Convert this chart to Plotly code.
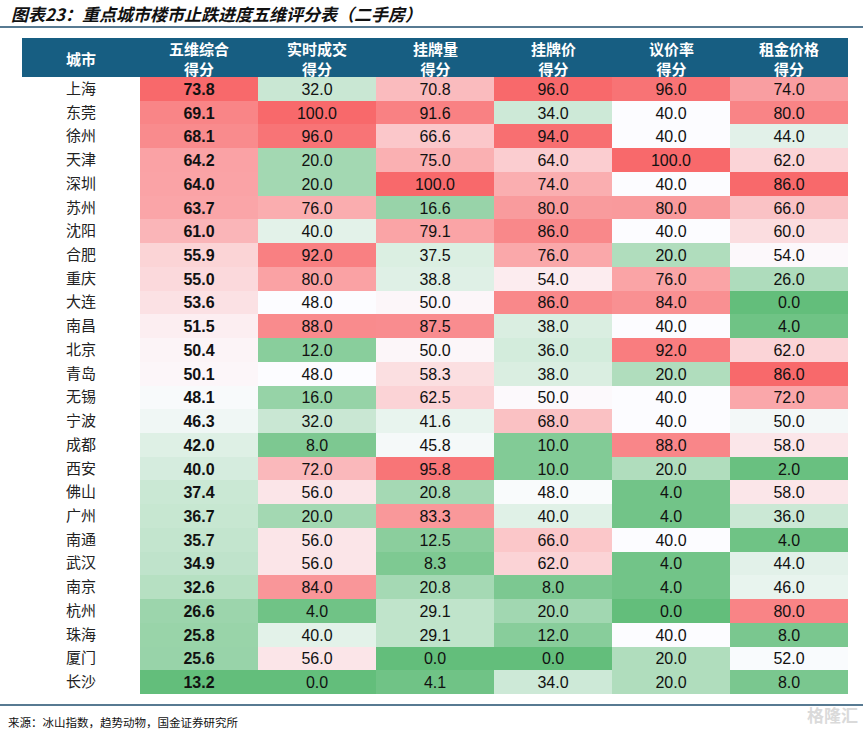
import numpy as np
import plotly.graph_objects as go

# ---- data ----
cities = ['上海', '东莞', '徐州', '天津', '深圳', '苏州', '沈阳', '合肥', '重庆', '大连',
          '南昌', '北京', '青岛', '无锡', '宁波', '成都', '西安', '佛山', '广州', '南通',
          '武汉', '南京', '杭州', '珠海', '厦门', '长沙']
composite = [73.8, 69.1, 68.1, 64.2, 64.0, 63.7, 61.0, 55.9, 55.0, 53.6, 51.5, 50.4, 50.1,
             48.1, 46.3, 42.0, 40.0, 37.4, 36.7, 35.7, 34.9, 32.6, 26.6, 25.8, 25.6, 13.2]
deals = [32, 100, 96, 20, 20, 76, 40, 92, 80, 48, 88, 12, 48,
         16, 32, 8, 72, 56, 20, 56, 56, 84, 4, 40, 56, 0]
listings = [70.8, 91.6, 66.6, 75.0, 100.0, 16.6, 79.1, 37.5, 38.8, 50.0, 87.5, 50.0, 58.3,
            62.5, 41.6, 45.8, 95.8, 20.8, 83.3, 12.5, 8.3, 20.8, 29.1, 29.1, 0.0, 4.1]
list_price = [96, 34, 94, 64, 74, 80, 86, 76, 54, 86, 38, 36, 38,
              50, 68, 10, 10, 48, 40, 66, 62, 8, 20, 12, 0, 34]
bargain = [96, 40, 40, 100, 40, 80, 40, 20, 76, 84, 40, 92, 20,
           40, 40, 88, 20, 4, 4, 40, 4, 4, 0, 40, 20, 20]
rent = [74, 80, 44, 62, 86, 66, 60, 54, 26, 0, 4, 62, 86,
        72, 50, 58, 2, 58, 36, 4, 44, 46, 80, 8, 52, 8]

headers = [['城市'], ['五维综合', '得分'], ['实时成交', '得分'], ['挂牌量', '得分'],
           ['挂牌价', '得分'], ['议价率', '得分'], ['租金价格', '得分']]

GREEN = 'rgb(99,190,123)'
WHITE = 'rgb(252,252,255)'
RED = 'rgb(248,105,107)'

W, H = 868, 731
L, R, T, B = 22, 20, 77, 37
PW, PH = W - L - R, H - T - B
HEAD = '#175E82'


def px(x, y):
    # pixel position -> paper coords
    return (x - L) / PW, (H - B - y) / PH


cols = [composite, deals, listings, list_price, bargain, rent]

fig = go.Figure()

# city name column (plain white cells)
fig.add_trace(go.Heatmap(
    x0=0, dx=1, y=cities, z=[[0] for _ in cities],
    text=[[c] for c in cities], texttemplate='%{text}',
    textfont=dict(family='Noto Sans CJK SC', size=15, color='#222222'),
    colorscale=[[0, 'white'], [1, 'white']], showscale=False, hoverinfo='skip',
))

# each score column gets its own 3-colour scale: min green, median white, max red
for i, col in enumerate(cols):
    v = np.array(col, dtype=float)
    lo, mid, hi = v.min(), np.percentile(v, 50), v.max()
    fig.add_trace(go.Heatmap(
        x0=i + 1, dx=1, y=cities, z=[[c] for c in col],
        zmin=lo, zmax=hi,
        colorscale=[[0, GREEN], [(mid - lo) / (hi - lo), WHITE], [1, RED]],
        texttemplate='<b>%{z:.1f}</b>' if i == 0 else '%{z:.1f}',
        textfont=dict(family='Liberation Sans', size=16, color='#111111'),
        showscale=False, hoverinfo='skip',
    ))

fig.update_xaxes(range=[-0.5, 6.5], showticklabels=False, ticks='',
                 showgrid=False, zeroline=False, fixedrange=True)
fig.update_yaxes(autorange='reversed', showticklabels=False, ticks='',
                 showgrid=False, zeroline=False, fixedrange=True)

# header band + column titles
x0, y0 = px(22, 77)
x1, y1 = px(848, 38)
fig.add_shape(type='rect', xref='paper', yref='paper', x0=x0, x1=x1, y0=y0, y1=y1,
              fillcolor=HEAD, line=dict(width=0), layer='below')
_, hy = px(0, 59)
for i, h in enumerate(headers):
    fig.add_annotation(
        text='<br>'.join('<b>%s</b>' % s for s in h),
        x=i, y=hy, xref='x', yref='paper', showarrow=False,
        xanchor='center', yanchor='middle',
        font=dict(family='Noto Sans CJK SC', size=15, color='white'),
    )

# title, rules and source
tx, ty = px(9, 14)
fig.add_annotation(
    text='<b><i>图表23：重点城市楼市止跌进度五维评分表（二手房）</i></b>',
    x=tx, y=ty, xref='paper', yref='paper',
    xanchor='left', yanchor='middle', showarrow=False,
    font=dict(family='Noto Sans CJK SC', size=17, color='#111111'),
)
for ly in (27, 705):
    a, b = px(0, ly)
    c, _ = px(863, ly)
    fig.add_shape(type='line', xref='paper', yref='paper',
                  x0=a, x1=c, y0=b, y1=b,
                  line=dict(color='#1F4E6E', width=1.5))
sx, sy = px(6, 722)
fig.add_annotation(
    text='来源：冰山指数，趋势动物，国金证券研究所',
    x=sx, y=sy, xref='paper', yref='paper',
    xanchor='left', yanchor='middle', showarrow=False,
    font=dict(family='Noto Sans CJK SC', size=11.5, color='#111111'),
)
# watermark
wx, wy = px(860, 714)
fig.add_annotation(
    text='<b>格隆汇</b>', x=wx, y=wy, xref='paper', yref='paper',
    xanchor='right', yanchor='middle', showarrow=False,
    font=dict(family='Noto Sans CJK SC', size=17, color='#DADADA'),
)

fig.update_layout(
    width=W, height=H,
    margin=dict(l=L, r=R, t=T, b=B),
    paper_bgcolor='white',
    plot_bgcolor='white',
)

# page has a default 8px body margin; drop it so the figure sits at 0,0
fig.write_html('out.html', config={'displayModeBar': False},
               post_script="document.body.style.margin='0';")
